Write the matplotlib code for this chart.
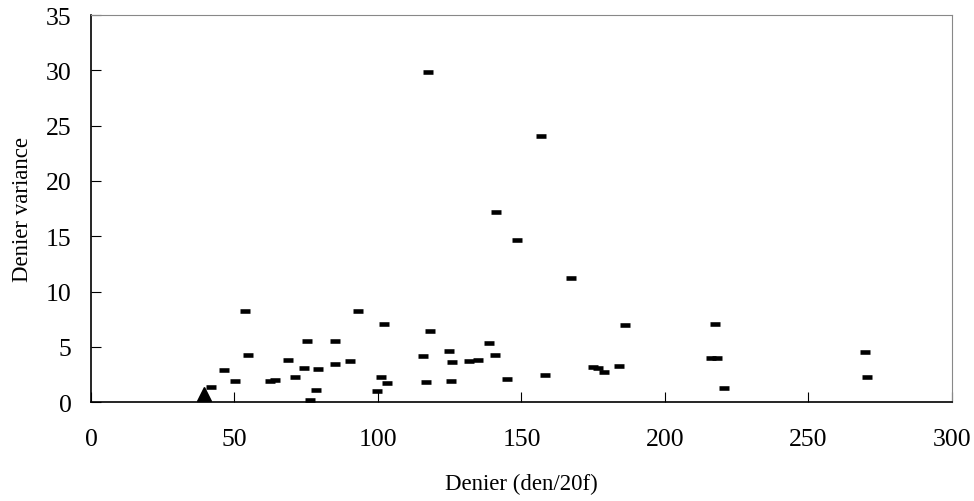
import matplotlib.pyplot as plt

plt.rcParams['font.family'] = ['Liberation Serif', 'DejaVu Serif']

# dash markers
denier = [41.7, 46.3, 50.1, 53.7, 54.6, 62.5, 64.0, 68.8, 71.2, 74.2,
          75.1, 76.3, 78.5, 79.2, 85.1, 85.1, 90.3, 93.2, 99.7, 101.2,
          102.1, 103.2, 115.7, 116.7, 117.5, 118.1, 124.9, 125.3, 125.7, 131.6,
          134.9, 138.8, 140.7, 141.0, 145.0, 148.4, 156.8, 158.2, 167.4, 175.0,
          176.5, 178.6, 184.0, 185.9, 216.2, 218.0, 217.4, 220.6, 269.6, 270.5]
variance = [1.4, 2.9, 1.95, 8.2, 4.3, 1.95, 2.0, 3.8, 2.25, 3.1,
            5.5, 0.15, 1.1, 3.0, 5.5, 3.45, 3.7, 8.2, 1.0, 2.25,
            7.1, 1.75, 4.15, 1.85, 29.85, 6.45, 4.65, 1.9, 3.65, 3.7,
            3.8, 5.35, 4.25, 17.2, 2.05, 14.65, 24.05, 2.45, 11.25, 3.15,
            3.05, 2.7, 3.3, 7.0, 4.0, 3.95, 7.05, 1.25, 4.55, 2.25]

# triangle marker
tri_denier = [39.5]
tri_variance = [0.7]

xticks = [0, 50, 100, 150, 200, 250, 300]
yticks = [0, 5, 10, 15, 20, 25, 30, 35]

fig = plt.figure(figsize=(9.74, 5.02), dpi=100)
ax = fig.add_axes([0.0934, 0.197, 0.8840, 0.771])

ax.plot(denier, variance, linestyle='none', marker='_', markersize=6.5,
        markeredgewidth=3.3, color='black')
ax.plot(tri_denier, tri_variance, linestyle='none', marker='^', markersize=10,
        color='black')

ax.set_xlim(0, 300)
ax.set_ylim(0, 35)
ax.set_xticks(xticks)
ax.set_yticks(yticks)
ax.tick_params(direction='in', length=7, width=0.8, labelsize=18.5)
ax.tick_params(axis='x', pad=19)
ax.tick_params(axis='y', pad=14)
ax.xaxis.set_ticks_position('bottom')
ax.yaxis.set_ticks_position('left')

for side in ['left', 'bottom']:
    ax.spines[side].set_linewidth(1.2)
for side in ['top', 'right']:
    ax.spines[side].set_color('#888888')
    ax.spines[side].set_linewidth(0.8)

ax.set_xlabel('Denier (den/20f)', fontsize=16.5, labelpad=16)
ax.set_ylabel('Denier variance', fontsize=16.5, labelpad=9)

plt.savefig('out.png', dpi=100)
